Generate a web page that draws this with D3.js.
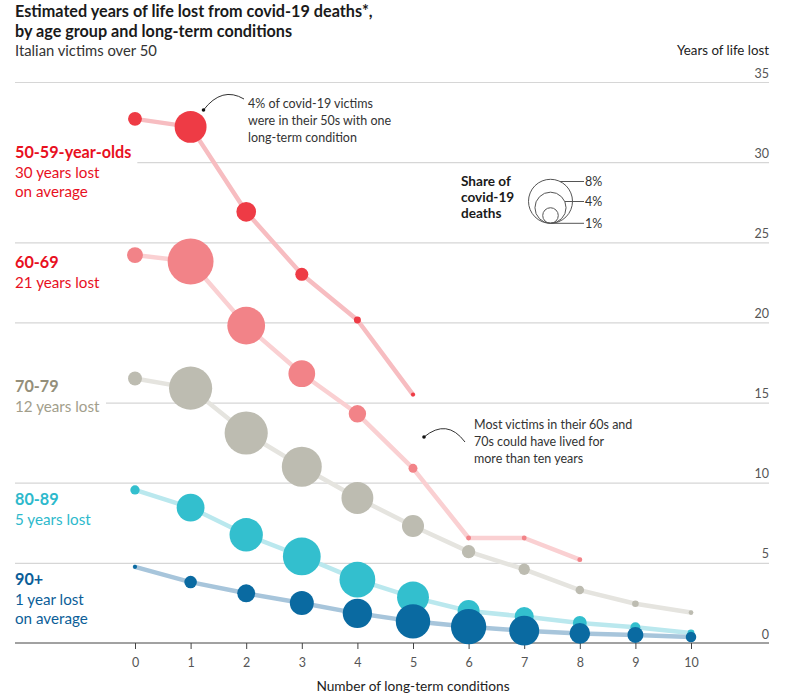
<!DOCTYPE html>
<html>
<head>
<meta charset="utf-8">
<script src="https://cdn.jsdelivr.net/npm/d3@7/dist/d3.min.js"></script>
<style>
  html, body { margin: 0; padding: 0; background: #fff; }
  svg { display: block; font-family: Lato, "Noto Sans", sans-serif; }
</style>
</head>
<body>
<svg id="chart" width="808" height="694"></svg>
<script>
// ---------- data ----------
const conditions = [0, 1, 2, 3, 4, 5, 6, 7, 8, 9, 10];
const yTickValues = [0, 5, 10, 15, 20, 25, 30, 35];
const ageGroups = ["50-59", "60-69", "70-79", "80-89", "90+"];

// years of life lost, by number of long-term conditions (index = conditions)
const years5059 = [32.7, 32.2, 26.9, 23.0, 20.15, 15.5];
const years6069 = [24.2, 23.8, 19.8, 16.8, 14.3, 10.9, 6.55, 6.55, 5.2];
const years7079 = [16.5, 15.9, 13.1, 11.0, 9.05, 7.3, 5.7, 4.6, 3.3, 2.45, 1.9];
const years8089 = [9.55, 8.45, 6.75, 5.4, 3.95, 2.85, 2.0, 1.65, 1.25, 0.98, 0.62];
const years90 = [4.75, 3.8, 3.1, 2.5, 1.85, 1.35, 1.02, 0.77, 0.6, 0.5, 0.38];

// share of covid-19 deaths (%)
const share5059 = [0.8, 4.2, 1.6, 0.7, 0.2, 0.07];
const share6069 = [1.05, 8.7, 5.9, 2.95, 1.25, 0.33, 0.1, 0.1, 0.1];
const share7079 = [0.8, 7.7, 7.7, 6.6, 4.2, 2.0, 0.74, 0.53, 0.3, 0.18, 0.09];
const share8089 = [0.36, 3.2, 4.6, 5.9, 5.3, 4.2, 2.0, 1.5, 0.8, 0.41, 0.2];
const share90 = [0.07, 0.65, 1.33, 2.37, 3.55, 4.9, 5.15, 3.7, 1.75, 1.05, 0.46];

const legendShares = [8, 4, 1];

const groupLabels = [
  ["50-59-year-olds", "30 years lost", "on average"],
  ["60-69", "21 years lost"],
  ["70-79", "12 years lost"],
  ["80-89", "5 years lost"],
  ["90+", "1 year lost", "on average"]
];

// ---------- styles ----------
const dotColors = ["#EE3B45", "#F28388", "#BDBCB1", "#33BFCE", "#0A6AA1"];
const lineColors = ["#F7BDC1", "#FAD0D2", "#E5E4DF", "#BAE8EE", "#A7C5DB"];
const labelColors = [["#E8101E", "#E8101E"], ["#E8101E", "#E8101E"], ["#948F7A", "#A29E8B"], ["#2DB9CC", "#2DB9CC"], ["#0B5E98", "#0B5E98"]];
const labelBaselines = [158, 268, 392, 505, 585];

const series = ageGroups.map((g, i) => {
  const ys = [years5059, years6069, years7079, years8089, years90][i];
  const ss = [share5059, share6069, share7079, share8089, share90][i];
  return { group: g, idx: i, points: ys.map((v, j) => ({ c: conditions[j], v: v, s: ss[j] })) };
});

// ---------- scales ----------
const svg = d3.select("#chart");
const x = d3.scaleLinear().domain([0, 10]).range([135, 691]);
const y = d3.scaleLinear().domain([0, 35]).range([643, 82]);
const r = d3.scaleSqrt().domain([0, 8]).range([0, 22]);
const left = 15, right = 769;

svg.append("rect").attr("width", 808).attr("height", 694).attr("fill", "#fff");

// ---------- title ----------
const title = svg.append("g");
title.append("text").attr("x", 15).attr("y", 17).attr("font-size", 16.2).attr("font-weight", 700).attr("fill", "#1a1a1a")
  .text("Estimated years of life lost from covid-19 deaths*,");
title.append("text").attr("x", 15).attr("y", 37).attr("font-size", 16.2).attr("font-weight", 700).attr("fill", "#1a1a1a")
  .text("by age group and long-term conditions");
title.append("text").attr("x", 15).attr("y", 56).attr("font-size", 14.8).attr("fill", "#333")
  .text("Italian victims over 50");

svg.append("text").attr("x", right).attr("y", 55).attr("text-anchor", "end").attr("font-size", 13.3).attr("fill", "#222")
  .text("Years of life lost");

// ---------- y grid ----------
const yAxis = svg.append("g").attr("transform", `translate(${left},0)`)
  .call(d3.axisRight(y).tickValues(yTickValues).tickSize(right - left).tickFormat(d3.format("d")));
yAxis.select(".domain").remove();
yAxis.selectAll(".tick line").attr("stroke", "#d6d6d6").attr("stroke-width", 1.2)
  .filter(d => d === 0).remove();
yAxis.selectAll(".tick text").attr("x", right - left).attr("dy", -5).attr("text-anchor", "end")
  .attr("font-size", 12.5).attr("fill", "#555").attr("font-family", "Lato, sans-serif");

// ---------- group labels (with white backing) ----------
const labelsG = svg.append("g");
groupLabels.forEach((lines, i) => {
  const g = labelsG.append("g");
  const bg = g.append("rect").attr("fill", "#fff");
  lines.forEach((t, k) => {
    g.append("text").attr("x", left).attr("y", labelBaselines[i] + k * 19.5)
      .attr("font-size", k === 0 ? 16.2 : 15.2).attr("font-weight", k === 0 ? 700 : 400)
      .attr("fill", labelColors[i][k === 0 ? 0 : 1]).text(t);
  });
  const bb = g.node().getBBox();
  bg.attr("x", bb.x - 2).attr("y", bb.y).attr("width", bb.width + 8).attr("height", bb.height);
});

// ---------- x axis ----------
svg.append("line").attr("x1", left).attr("x2", right).attr("y1", y(0)).attr("y2", y(0))
  .attr("stroke", "#444").attr("stroke-width", 1);
const xAxis = svg.append("g").attr("transform", `translate(0,${y(0)})`)
  .call(d3.axisBottom(x).tickValues(conditions).tickSize(6).tickPadding(9).tickFormat(d3.format("d")));
xAxis.select(".domain").remove();
xAxis.selectAll(".tick line").attr("stroke", "#444");
xAxis.selectAll(".tick text").attr("font-size", 12.5).attr("fill", "#555").attr("font-family", "Lato, sans-serif");
svg.append("text").attr("x", 413).attr("y", 691).attr("text-anchor", "middle").attr("font-size", 13.7).attr("fill", "#222")
  .text("Number of long-term conditions");

// ---------- lines ----------
const lineGen = d3.line().x(d => x(d.c)).y(d => y(d.v));
svg.append("g").selectAll("path").data(series).join("path")
  .attr("d", d => lineGen(d.points))
  .attr("fill", "none").attr("stroke", d => lineColors[d.idx]).attr("stroke-width", 4.5)
  .attr("stroke-linejoin", "round").attr("stroke-linecap", "round");

// ---------- dots ----------
series.forEach(sr => {
  svg.append("g").selectAll("circle").data(sr.points).join("circle")
    .attr("cx", d => x(d.c)).attr("cy", d => y(d.v)).attr("r", d => r(d.s))
    .attr("fill", dotColors[sr.idx]);
});

// ---------- legend ----------
const leg = svg.append("g");
["Share of", "covid-19", "deaths"].forEach((t, k) => {
  leg.append("text").attr("x", 461).attr("y", 186 + k * 16).attr("font-size", 13.6).attr("font-weight", 700)
    .attr("fill", "#1a1a1a").text(t);
});
const lcx = 550.5, lbottom = 223.3;
const legLineY = [181.5, 201.5, 223.3];
legendShares.forEach((s, k) => {
  const rr = r(s), cy = lbottom - rr;
  leg.append("circle").attr("cx", lcx).attr("cy", cy).attr("r", rr)
    .attr("fill", "none").attr("stroke", "#555").attr("stroke-width", 1);
  const ly = legLineY[k];
  const dx = Math.sqrt(Math.max(0, rr * rr - (ly - cy) * (ly - cy)));
  leg.append("line").attr("x1", lcx + dx).attr("x2", 584).attr("y1", ly).attr("y2", ly)
    .attr("stroke", "#555").attr("stroke-width", 1);
  leg.append("text").attr("x", 585).attr("y", ly).attr("dy", "0.35em").attr("font-size", 12.5).attr("fill", "#333")
    .text(s + "%");
});

// ---------- annotations ----------
const ann = svg.append("g");
function note(lines, tx, ty, path, dot) {
  lines.forEach((t, k) => {
    ann.append("text").attr("x", tx).attr("y", ty + k * 17).attr("font-size", 12.5).attr("fill", "#333").text(t);
  });
  ann.append("path").attr("d", path).attr("fill", "none").attr("stroke", "#333").attr("stroke-width", 1);
  ann.append("circle").attr("cx", dot[0]).attr("cy", dot[1]).attr("r", 1.8).attr("fill", "#111");
}
note(["4% of covid-19 victims", "were in their 50s with one", "long-term condition"], 248, 108,
  "M244,99 Q222,86 203.5,110", [203.5, 110]);
note(["Most victims in their 60s and", "70s could have lived for", "more than ten years"], 474, 429,
  "M465,442 Q447,418 424,437", [424, 437]);
</script>
</body>
</html>
